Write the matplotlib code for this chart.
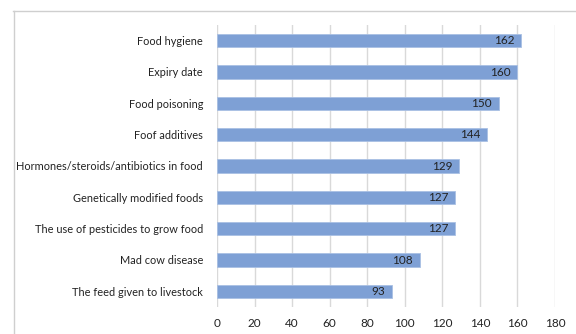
import matplotlib.pyplot as plt
from matplotlib.lines import Line2D

# categories from bottom to top
categories = ["The feed given to livestock", "Mad cow disease",
              "The use of pesticides to grow food", "Genetically modified foods",
              "Hormones/steroids/antibiotics in food", "Foof additives",
              "Food poisoning", "Expiry date", "Food hygiene"]
counts = [93, 108, 127, 127, 129, 144, 150, 160, 162]
xticks = [0, 20, 40, 60, 80, 100, 120, 140, 160, 180]

plt.rcParams['font.family'] = ['Lato', 'DejaVu Sans']

fig = plt.figure(figsize=(5.76, 3.34), dpi=100)
ax = fig.add_axes([217/576, 1 - 307/334, 338/576, 282/334])

bars = ax.barh(range(len(categories)), counts, height=0.42,
               color="#7EA0D5", edgecolor="#A9C0E4", linewidth=0.6, zorder=3)

# value labels inside the bar end
for i, v in enumerate(counts):
    ax.annotate(str(v), (v, i), xytext=(-5, 0), textcoords="offset points",
                ha="right", va="center", fontsize=8.5, color="#222222", zorder=4)

ax.set_xlim(0, 180)
ax.set_ylim(-0.5, len(categories) - 0.5)
ax.set_xticks(xticks)
ax.set_yticks(range(len(categories)))
ax.set_yticklabels(categories)
ax.tick_params(axis="both", length=0, labelsize=8.5, colors="#222222")
ax.tick_params(axis="y", pad=10, labelsize=7.9)
ax.tick_params(axis="x", pad=8)

ax.grid(axis="x", color="#D9D9D9", linewidth=1, zorder=0)
for s in ax.spines.values():
    s.set_visible(False)

# outer chart frame (top and left edges visible)
fig.add_artist(Line2D([13/576, 1], [1 - 10.5/334, 1 - 10.5/334],
                      transform=fig.transFigure, color="#CFCFCF", linewidth=1))
fig.add_artist(Line2D([13.5/576, 13.5/576], [0, 1 - 10.5/334],
                      transform=fig.transFigure, color="#CFCFCF", linewidth=1))

fig.savefig("out.png", dpi=100)
